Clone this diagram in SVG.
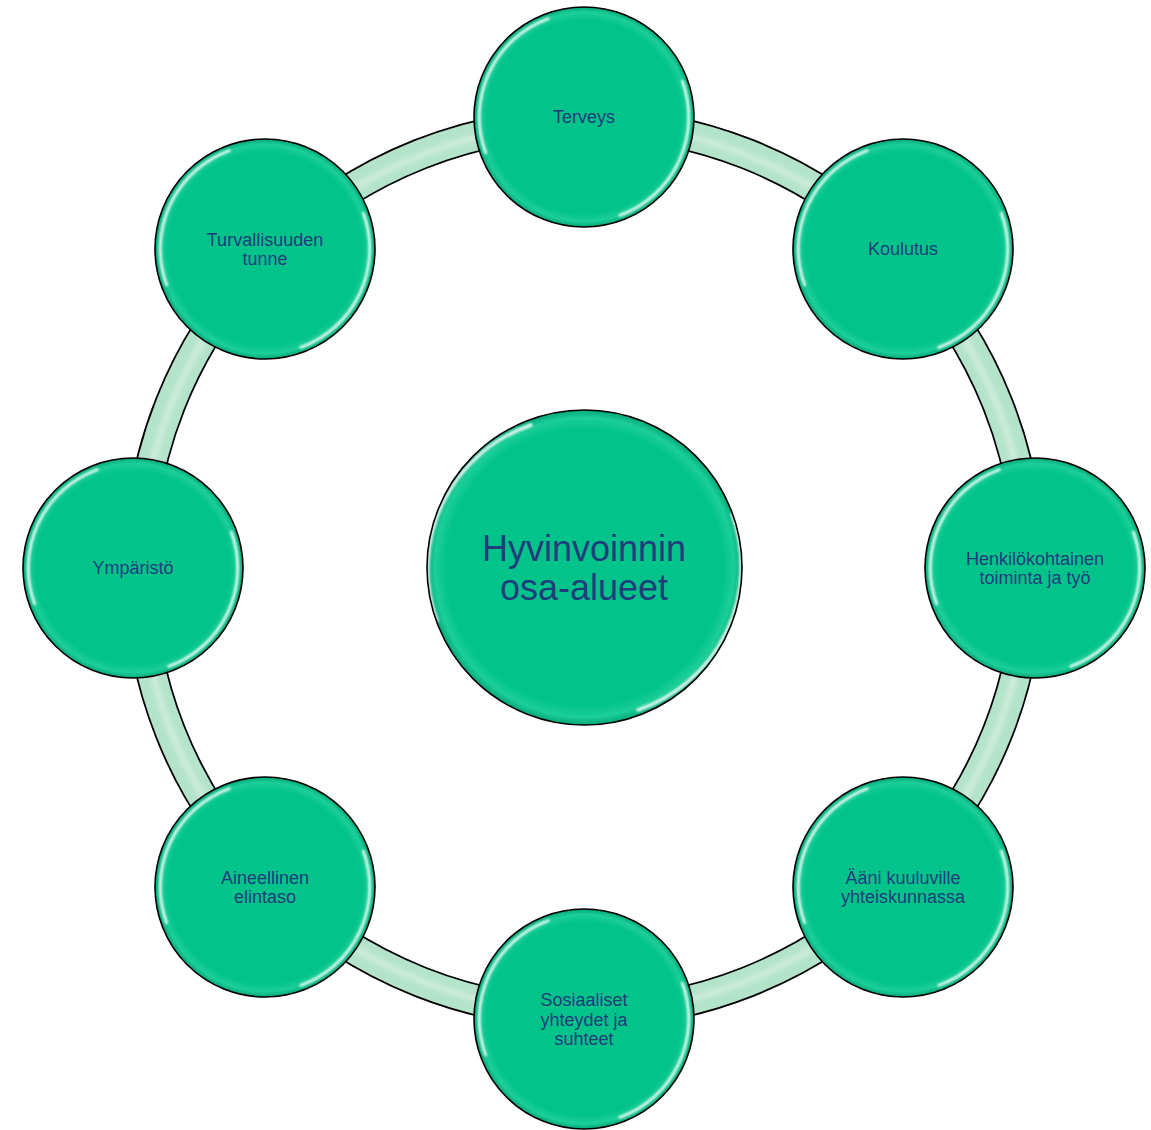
<svg xmlns="http://www.w3.org/2000/svg" xmlns:xlink="http://www.w3.org/1999/xlink" width="1151" height="1130" viewBox="0 0 1151 1130">
  <defs>
    <style>
      .lbl { font-family: "Liberation Sans", Arial, sans-serif; font-size: 18px; fill: #1f3d7a; text-anchor: middle; }
      .big { font-family: "Liberation Sans", Arial, sans-serif; font-size: 36px; fill: #1f3d7a; text-anchor: middle; }
      .hl { fill: none; stroke: #ffffff; stroke-linecap: round; filter: url(#soft); }
    </style>
    <filter id="soft" x="-20%" y="-20%" width="140%" height="140%">
      <feGaussianBlur stdDeviation="1.2"/>
    </filter>
    <filter id="soft2" x="-10%" y="-10%" width="120%" height="120%">
      <feGaussianBlur stdDeviation="2.5"/>
    </filter>
    <radialGradient id="ballFill" cx="0.5" cy="0.5" r="0.5">
      <stop offset="0" stop-color="#02c38a"/>
      <stop offset="0.88" stop-color="#02c38a"/>
      <stop offset="0.95" stop-color="#1ccf98"/>
      <stop offset="1" stop-color="#03a878"/>
    </radialGradient>
    <g id="ball">
      <circle r="110" fill="url(#ballFill)"/>
      <path class="hl" d="M -101.5 36.9 A 108 108 0 0 1 -36.9 -101.5" stroke-width="3" opacity="0.85" transform="scale(0.97)"/>
      <path class="hl" d="M 101.5 -36.9 A 108 108 0 0 1 36.9 101.5" stroke-width="3" opacity="0.85" transform="scale(0.97)"/>
      <circle r="110" fill="none" stroke="#000" stroke-width="1.6"/>
    </g>
  </defs>

  <g id="connectors">
    <circle cx="584" cy="568" r="445" fill="none" stroke="#000" stroke-width="32"/>
    <circle cx="584" cy="568" r="445" fill="none" stroke="#b4e3cb" stroke-width="28.5"/>
    <circle cx="584" cy="568" r="444" fill="none" stroke="#e4f6ec" stroke-width="6" opacity="0.55" filter="url(#soft2)"/>
  </g>

  <g id="center">
    <circle cx="584.5" cy="567.5" r="157.5" fill="url(#ballFill)"/>
    <path class="hl" d="M 437 621 A 152 152 0 0 1 531 425" transform="translate(0,0)" stroke-width="3.5" opacity="0.85"/>
    <path class="hl" d="M 732 514 A 152 152 0 0 1 638 710" stroke-width="3.5" opacity="0.85"/>
    <circle cx="584.5" cy="567.5" r="157.5" fill="none" stroke="#000" stroke-width="1.6"/>
    <text class="big" x="584" y="561">Hyvinvoinnin</text>
    <text class="big" x="584" y="600">osa-alueet</text>
  </g>

  <g id="n-terveys" transform="translate(584,117)">
    <use href="#ball"/>
    <text class="lbl" x="0" y="6">Terveys</text>
  </g>
  <g id="n-koulutus" transform="translate(903,249)">
    <use href="#ball"/>
    <text class="lbl" x="0" y="6">Koulutus</text>
  </g>
  <g id="n-henkilokohtainen" transform="translate(1035,568)">
    <use href="#ball"/>
    <text class="lbl" x="0" y="-3">Henkilökohtainen</text>
    <text class="lbl" x="0" y="16">toiminta ja työ</text>
  </g>
  <g id="n-aani" transform="translate(903,887)">
    <use href="#ball"/>
    <text class="lbl" x="0" y="-3">Ääni kuuluville</text>
    <text class="lbl" x="0" y="16">yhteiskunnassa</text>
  </g>
  <g id="n-sosiaaliset" transform="translate(584,1019)">
    <use href="#ball"/>
    <text class="lbl" x="0" y="-13">Sosiaaliset</text>
    <text class="lbl" x="0" y="7">yhteydet ja</text>
    <text class="lbl" x="0" y="26">suhteet</text>
  </g>
  <g id="n-aineellinen" transform="translate(265,887)">
    <use href="#ball"/>
    <text class="lbl" x="0" y="-3">Aineellinen</text>
    <text class="lbl" x="0" y="16">elintaso</text>
  </g>
  <g id="n-ymparisto" transform="translate(133,568)">
    <use href="#ball"/>
    <text class="lbl" x="0" y="6">Ympäristö</text>
  </g>
  <g id="n-turvallisuus" transform="translate(265,249)">
    <use href="#ball"/>
    <text class="lbl" x="0" y="-3">Turvallisuuden</text>
    <text class="lbl" x="0" y="16">tunne</text>
  </g>
</svg>
